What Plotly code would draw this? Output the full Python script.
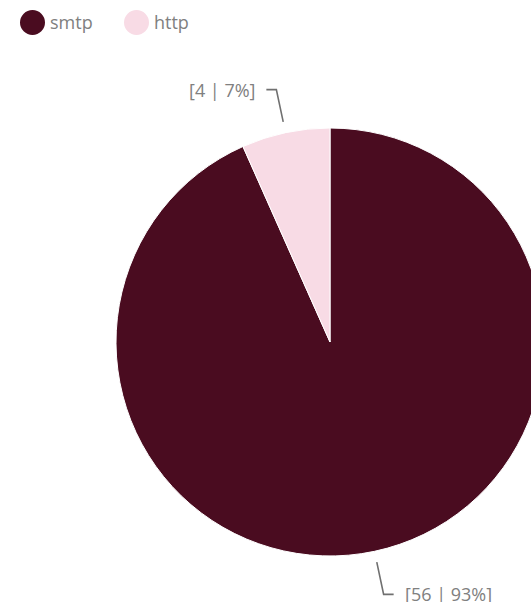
import math
import plotly.graph_objects as go

# Traffic by protocol
labels = ["smtp", "http"]
values = [56, 4]
colors = ["#4a0c20", "#f8dbe5"]

W, H = 560, 602          # canvas (right side runs past the visible window)
CX, CY, R = 330, 342, 214  # pie centre and radius in pixels
TEXT_COLOR = "#808080"
LINE_COLOR = "#707070"
FONT = "Open Sans"


def px(x, y):
    """pixel -> paper coordinates"""
    return x / W, 1 - y / H


fig = go.Figure()

fig.add_trace(go.Pie(
    labels=labels,
    values=values,
    sort=False,
    direction="clockwise",
    rotation=0,
    marker=dict(colors=colors, line=dict(color="white", width=1)),
    textinfo="none",
    hoverinfo="label+value+percent",
    showlegend=False,
    domain=dict(x=[(CX - R) / W, (CX + R) / W],
                y=[1 - (CY + R) / H, 1 - (CY - R) / H]),
))

shapes = []
annotations = []

# outside labels with leader lines, placed at each slice's mid angle
total = sum(values)
start = 0.0
for lab, val in zip(labels, values):
    frac = val / total
    mid = (start + frac / 2) * 2 * math.pi  # clockwise from 12 o'clock
    start += frac
    sx, sy = math.sin(mid), -math.cos(mid)
    x1, y1 = CX + sx * (R + 11), CY + sy * (R + 11)
    x2, y2 = CX + sx * (R + 44), CY + sy * (R + 44)
    side = 1 if sx >= 0 else -1
    x3 = x2 + side * 10
    pts = [px(x1, y1), px(x2, y2), px(x3, y2)]
    path = "M {} {} L {} {} L {} {}".format(*[c for p in pts for c in p])
    shapes.append(dict(type="path", xref="paper", yref="paper", path=path,
                       line=dict(color=LINE_COLOR, width=1.6)))
    tx, ty = px(x3 + side * 9, y2)
    annotations.append(dict(
        x=tx, y=ty, xref="paper", yref="paper", showarrow=False,
        text=f"[{val} | {round(frac * 100)}%]",
        xanchor="left" if side > 0 else "right", yanchor="middle",
        font=dict(family=FONT, size=18, color=TEXT_COLOR),
    ))

# legend: circular swatches with labels
legend_x = [20, 124]
for lx, lab, col in zip(legend_x, labels, colors):
    x0, y0 = px(lx, 10)
    x1, y1 = px(lx + 25, 35)
    shapes.append(dict(type="circle", xref="paper", yref="paper",
                       x0=x0, y0=y1, x1=x1, y1=y0,
                       fillcolor=col, line=dict(width=0)))
    tx, ty = px(lx + 28, 22)
    annotations.append(dict(
        x=tx, y=ty, xref="paper", yref="paper", showarrow=False,
        text=lab, xanchor="left", yanchor="middle",
        font=dict(family=FONT, size=18, color=TEXT_COLOR),
    ))

fig.update_layout(
    width=W, height=H,
    margin=dict(l=0, r=0, t=0, b=0),
    paper_bgcolor="white",
    plot_bgcolor="white",
    shapes=shapes,
    annotations=annotations,
    font=dict(family=FONT, color=TEXT_COLOR),
)

fig.write_html(
    "out.html",
    post_script="document.documentElement.style.overflow='hidden';"
                "document.body.style.overflow='hidden';"
                "document.body.style.margin='0';",
)
